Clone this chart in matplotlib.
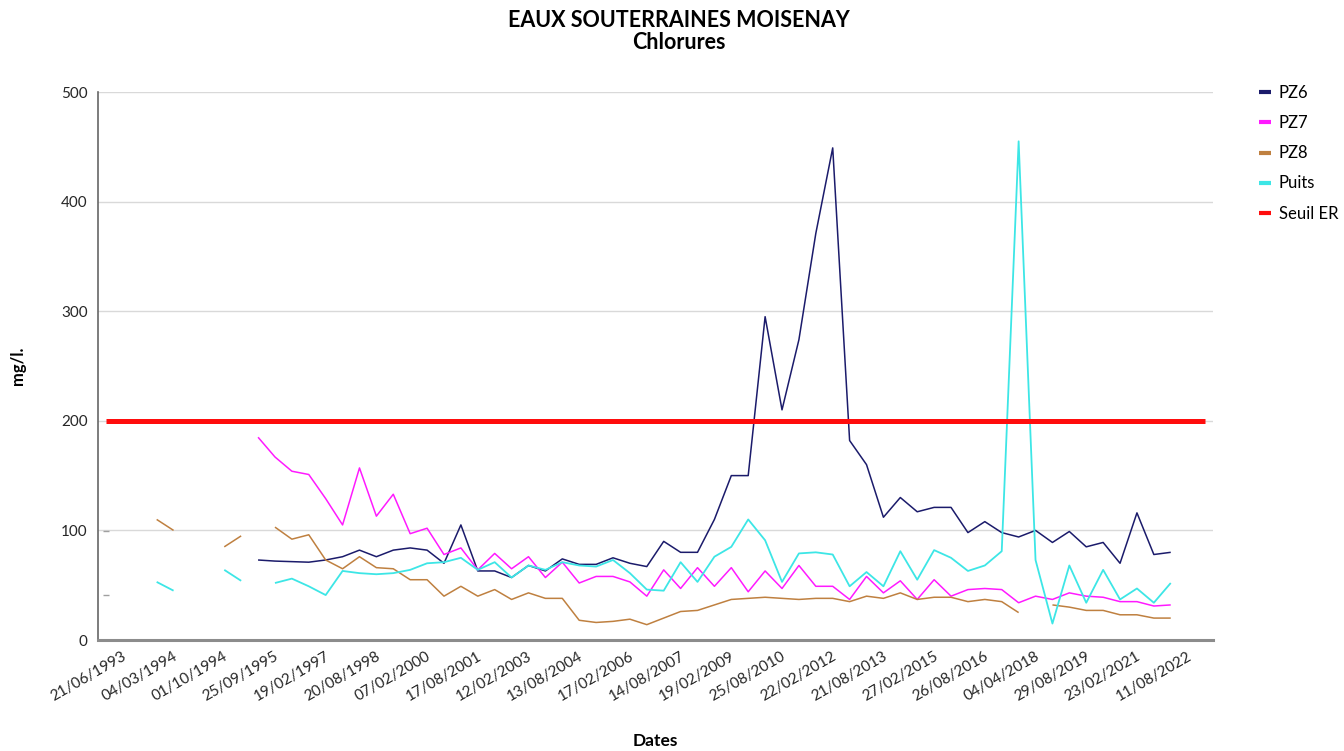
import numpy as np
import matplotlib
matplotlib.use("Agg")
import matplotlib.pyplot as plt
import matplotlib.transforms as mtransforms

plt.rcParams['font.family'] = ['Lato', 'DejaVu Sans']

# labels shown on the x axis (one every 3 samples)
date_labels = ["21/06/1993", "04/03/1994", "01/10/1994", "25/09/1995", "19/02/1997",
               "20/08/1998", "07/02/2000", "17/08/2001", "12/02/2003", "13/08/2004",
               "17/02/2006", "14/08/2007", "19/02/2009", "25/08/2010", "22/02/2012",
               "21/08/2013", "27/02/2015", "26/08/2016", "04/04/2018", "29/08/2019",
               "23/02/2021", "11/08/2022"]
label_step = 3

n_samples = 66
N = None
# values in mg/l, one per sample (None = no measurement)
pz6 = [N, N, N, N, N, N, N, N, N, 73, 72, 71.5, 71, 73, 76, 82, 76, 82, 84, 82,
       70, 105, 63, 63, 57, 68, 63, 74, 69, 69, 75, 70, 67, 90, 80, 80, 110, 150, 150, 295,
       210, 274, 371, 449, 182, 160, 112, 130, 117, 121, 121, 98, 108, 98, 94, 100, 89, 99, 85, 89,
       70, 116, 78, 80]
pz7 = [N, N, N, N, N, N, N, N, N, 185, 167, 154, 151, 129, 105, 157, 113, 133, 97, 102,
       78, 84, 64, 79, 65, 76, 57, 71, 52, 58, 58, 53, 40, 64, 47, 66, 49, 66, 44, 63,
       47, 68, 49, 49, 37, 58, 43, 54, 37, 55, 40, 46, 47, 46, 34, 40, 37, 43, 40, 39,
       35, 35, 31, 32]
pz8 = [99, N, N, 110, 100, N, N, 85, 95, N, 103, 92, 96, 73, 65, 76, 66, 65, 55, 55,
       40, 49, 40, 46, 37, 43, 38, 38, 18, 16, 17, 19, 14, 20, 26, 27, 32, 37, 38, 39,
       38, 37, 38, 38, 35, 40, 38, 43, 37, 39, 39, 35, 37, 35, 25, N, 32, 30, 27, 27,
       23, 23, 20, 20]
puits = [41, N, N, 53, 45, N, N, 64, 54, N, 52, 56, 49, 41, 63, 61, 60, 61, 64, 70,
         71, 75, 64, 71, 57, 68, 64, 71, 68, 67, 73, 61, 46, 45, 71, 53, 76, 85, 110, 91,
         53, 79, 80, 78, 49, 62, 49, 81, 55, 82, 75, 63, 68, 81, 455, 73, 15, 68, 34, 64,
         37, 47, 34, 52]
seuil_er = [200] * n_samples

series = [("PZ6", pz6, "#1b1b6b", 1.1),
          ("PZ7", pz7, "#ff1aff", 1.1),
          ("PZ8", pz8, "#bf8040", 1.1),
          ("Puits", puits, "#3de6e6", 1.3),
          ("Seuil ER", seuil_er, "#ff0d0d", 3.6)]

fig = plt.figure(figsize=(13.44, 7.51), dpi=100)
ax = fig.add_axes([97.5 / 1344, 1 - 640 / 751, (1213 - 97.5) / 1344, (640 - 92) / 751])

x = np.arange(n_samples)
for name, vals, color, lw in series:
    y = np.array([np.nan if v is None else v for v in vals], dtype=float)
    y = np.concatenate([y, np.full(n_samples - len(y), np.nan)])
    ax.plot(x, y, color=color, lw=lw, label=name, solid_capstyle='butt')
    # isolated measurements show up as tiny dashes
    prev = np.concatenate([[np.nan], y[:-1]])
    nxt = np.concatenate([y[1:], [np.nan]])
    iso = ~np.isnan(y) & np.isnan(prev) & np.isnan(nxt)
    ax.plot(x[iso], y[iso], ls='none', marker='_', ms=4, mew=1, color='#a0a0a0')

ax.set_xlim(-0.5, n_samples - 0.5)
ax.set_ylim(0, 500)
ax.set_yticks(range(0, 501, 100))
ax.yaxis.grid(True, color='#d9d9d9', lw=1)
ax.set_axisbelow(True)

ax.tick_params(axis='both', length=0, colors='#262626')
ax.tick_params(axis='x', pad=7)
ax.tick_params(axis='y', pad=7, labelsize=11)
ax.set_xticks(np.arange(len(date_labels)) * label_step)
ax.set_xticklabels(date_labels, rotation=30, ha='right', rotation_mode='anchor', fontsize=11)
# labels sit a bit to the right of their sample
shift = mtransforms.ScaledTranslation(16 / 100, 0, fig.dpi_scale_trans)
for lab in ax.xaxis.get_majorticklabels():
    lab.set_transform(lab.get_transform() + shift)

for s in ['top', 'right']:
    ax.spines[s].set_visible(False)
ax.spines['left'].set_color('#666666')
ax.spines['left'].set_linewidth(1.2)
ax.spines['bottom'].set_color('#8c8c8c')
ax.spines['bottom'].set_linewidth(2.2)

fig.text(679 / 1344, 1 - 10 / 751, "EAUX SOUTERRAINES MOISENAY\nChlorures", ha='center', va='top',
         fontsize=15.5, fontweight='bold', linespacing=1.05)
fig.text(655 / 1344, 1 - 741 / 751, "Dates", ha='center', va='center', fontsize=12.5, fontweight='bold')
fig.text(18 / 1344, 1 - 366 / 751, "mg/l.", ha='center', va='center', rotation=90,
         fontsize=12, fontweight='bold')

leg = ax.legend(loc='upper left', bbox_to_anchor=(1244 / 1344, 1 - 70 / 751),
                bbox_transform=fig.transFigure, frameon=False, fontsize=12,
                handlelength=0.7, handletextpad=0.5, labelspacing=0.85)
for h in leg.get_lines():
    h.set_linewidth(3)

fig.savefig("out.png", dpi=100)
